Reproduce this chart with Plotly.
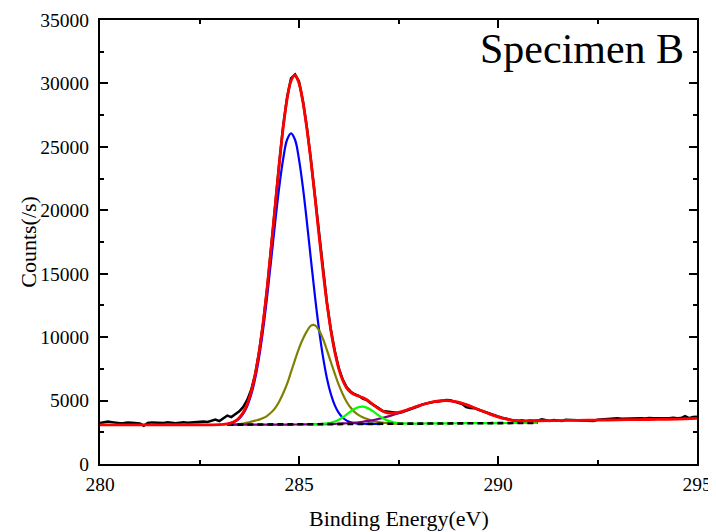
import numpy as np
import plotly.graph_objects as go

# ---------------- data ----------------
# measured spectrum, 280.0 .. 295.0 eV step 0.1
raw_counts = [
    3230, 3260, 3350, 3300, 3240, 3210, 3230, 3270, 3250, 3220,
    3200, 3020, 3230, 3280, 3260, 3200, 3230, 3290, 3250, 3220,
    3260, 3300, 3250, 3280, 3320, 3300, 3350, 3320, 3400, 3500,
    3380, 3600, 3820, 3700, 3950, 4150, 4500, 5050, 5850, 7100,
    8900, 11150, 13850, 16900, 20300, 23600, 26600, 28900, 30400, 30700,
    30150, 28600, 26500, 23950, 21100, 18100, 15300, 12750, 10600, 8900,
    7550, 6650, 6050, 5700, 5500, 5380, 5150, 5050, 4800, 4620,
    4420, 4180, 4150, 4100, 4050, 4020, 4100, 4200, 4330, 4400,
    4550, 4700, 4780, 4850, 4900, 4930, 5000, 5050, 5020, 4950,
    4820, 4720, 4480, 4420, 4400, 4300, 4180, 4050, 3950, 3850,
    3750, 3650, 3560, 3480, 3420, 3400, 3450, 3380, 3420, 3400,
    3420, 3520, 3430, 3400, 3460, 3420, 3400, 3480, 3450, 3420,
    3440, 3430, 3410, 3420, 3400, 3480, 3500, 3520, 3560, 3530,
    3600, 3560, 3580, 3570, 3600, 3590, 3610, 3580, 3620, 3600,
    3590, 3620, 3600, 3610, 3640, 3600, 3620, 3780, 3610, 3700,
    3720,
]
raw_energy = np.round(np.arange(280.0, 295.05, 0.1), 1)

# fit region energies
fit_energy = [
    283.2, 283.3, 283.4, 283.5, 283.6, 283.7, 283.8, 283.9,
    284.0, 284.1, 284.2, 284.3, 284.4, 284.5, 284.6, 284.7, 284.8, 284.9,
    285.0, 285.1, 285.2, 285.3, 285.4, 285.5, 285.6, 285.7, 285.8, 285.9,
    286.0, 286.1, 286.2, 286.3, 286.4, 286.5, 286.6, 286.7, 286.8, 286.9,
    287.0, 287.2, 287.4, 287.6, 287.8, 288.0, 288.2, 288.4, 288.6, 288.8,
    289.0, 289.2, 289.4, 289.6, 289.8, 290.0, 290.2, 290.4, 290.6, 290.8,
    291.0,
]
background = [
    3100, 3100, 3100, 3100, 3100, 3100, 3100, 3100,
    3100, 3100, 3100, 3100, 3102, 3104, 3106, 3108, 3110, 3112,
    3115, 3118, 3121, 3124, 3127, 3130, 3133, 3136, 3139, 3142,
    3145, 3148, 3150, 3152, 3154, 3156, 3158, 3160, 3162, 3164,
    3166, 3170, 3175, 3180, 3185, 3190, 3195, 3200, 3205, 3210,
    3214, 3218, 3222, 3225, 3228, 3230, 3232, 3234, 3236, 3238,
    3240,
]
# component intensities above background
peak_c1 = [  # blue, ~284.8 eV
    69, 140, 270, 498, 877, 1476, 2375, 3650,
    5370, 7540, 10120, 12980, 15910, 18640, 20900, 22450, 22950, 22450,
    20900, 18640, 15910, 12980, 10120, 7540, 5370, 3650, 2375, 1476,
    877, 498, 270, 140, 69, 33, 15, 6, 3, 1,
    0, 0, 0, 0, 0, 0, 0, 0, 0, 0,
    0, 0, 0, 0, 0, 0, 0, 0, 0, 0,
    0,
]
peak_c2 = [  # olive, ~285.4 eV
    0, 5, 20, 50, 95, 160, 240, 322,
    400, 520, 700, 960, 1300, 1800, 2450, 3200, 4150, 5100,
    6000, 6750, 7350, 7780, 7810, 7420, 6750, 5860, 4900, 3970,
    3085, 2350, 1740, 1280, 940, 700, 530, 400, 290, 200,
    130, 50, 10, 0, 0, 0, 0, 0, 0, 0,
    0, 0, 0, 0, 0, 0, 0, 0, 0, 0,
    0,
]
peak_c3 = [  # green, ~286.6 eV
    0, 0, 0, 0, 0, 0, 0, 0,
    0, 0, 0, 0, 0, 0, 0, 0, 0, 0,
    0, 0, 0, 0, 5, 12, 28, 60, 117, 210,
    350, 537, 760, 992, 1194, 1325, 1357, 1283, 1119, 900,
    668, 289, 91, 20, 3, 0, 0, 0, 0, 0,
    0, 0, 0, 0, 0, 0, 0, 0, 0, 0,
    0,
]
peak_c4 = [  # purple, ~288.7 eV
    0, 0, 0, 0, 0, 0, 0, 0,
    0, 0, 0, 0, 0, 0, 0, 0, 0, 0,
    1, 2, 2, 4, 5, 7, 10, 14, 20, 27,
    36, 48, 63, 83, 106, 135, 171, 213, 262, 320,
    386, 544, 734, 948, 1173, 1389, 1575, 1710, 1779, 1766,
    1655, 1460, 1214, 951, 702, 489, 320, 198, 115, 63,
    33,
]
# envelope outside the fitted region
env_left_energy = [280.0, 280.5, 281.0, 281.5, 282.0, 282.5, 283.0]
env_left_counts = [3085, 3088, 3090, 3092, 3094, 3096, 3098]
env_right_energy = [290.6, 290.8, 291.0, 291.5, 292.0, 292.5, 293.0, 293.5, 294.0, 294.5, 295.0]
env_right_counts = [3400, 3405, 3410, 3425, 3440, 3460, 3480, 3500, 3520, 3545, 3600]

comp_ranges = {"c1": (283.2, 287.0), "c2": (283.2, 287.6), "c3": (285.3, 291.0), "c4": (283.2, 291.0)}

x_ticks = [280, 285, 290, 295]
y_ticks = [0, 5000, 10000, 15000, 20000, 25000, 30000, 35000]

# ---------------- figure ----------------
E = np.array(fit_energy)
bg = np.array(background)
comps = {"c1": np.array(peak_c1), "c2": np.array(peak_c2), "c3": np.array(peak_c3), "c4": np.array(peak_c4)}
colors = {"c1": "#0000FF", "c2": "#808000", "c3": "#00FF00", "c4": "#800080"}

env_fit = bg + comps["c1"] + comps["c2"] + comps["c3"] + comps["c4"]
mask_env = E <= 290.4
env_x = list(env_left_energy) + list(E[mask_env]) + list(env_right_energy)
env_y = list(env_left_counts) + list(env_fit[mask_env]) + list(env_right_counts)

fig = go.Figure()
fig.add_trace(go.Scatter(x=raw_energy, y=raw_counts, mode="lines",
                         line=dict(color="black", width=2.5)))
for key in ["c1", "c2", "c4", "c3"]:
    lo, hi = comp_ranges[key]
    m = (E >= lo - 1e-9) & (E <= hi + 1e-9)
    fig.add_trace(go.Scatter(x=E[m], y=(bg + comps[key])[m], mode="lines",
                             line=dict(color=colors[key], width=2.2, shape="spline")))
fig.add_trace(go.Scatter(x=E, y=bg, mode="lines",
                         line=dict(color="black", width=2.6, dash="6px,4px")))
fig.add_trace(go.Scatter(x=env_x, y=env_y, mode="lines",
                         line=dict(color="#FF0000", width=2.8, shape="spline")))

axis_common = dict(
    showline=True, linecolor="black", linewidth=2, mirror="ticks",
    ticks="inside", ticklen=8, tickwidth=2, tickcolor="black",
    showgrid=False, zeroline=False, tickformat="d",
    tickfont=dict(family="Liberation Serif", size=19.5, color="black"),
)
fig.update_xaxes(range=[280, 295], tickvals=x_ticks, ticklabelstandoff=2,
                 minor=dict(ticks="inside", ticklen=4, tickwidth=2, tickcolor="black",
                            tick0=280, dtick=2.5),
                 **axis_common)
fig.update_yaxes(range=[0, 35000], tickvals=y_ticks, ticklabelstandoff=5,
                 minor=dict(ticks="inside", ticklen=4, tickwidth=2, tickcolor="black",
                            tick0=0, dtick=2500),
                 **axis_common)

# the page body has an 8px default margin; the figure size/margins account for it
fig.update_layout(
    width=708, height=524,
    margin=dict(l=92, r=19, t=12, b=68, autoexpand=False),
    plot_bgcolor="white", paper_bgcolor="white",
    showlegend=False,
    font=dict(family="Liberation Serif", size=19, color="black"),
    annotations=[
        dict(text="Specimen B", xref="paper", yref="paper", x=0.982, y=0.935,
             xanchor="right", yanchor="middle", showarrow=False,
             font=dict(family="Liberation Serif", size=42, color="black")),
        dict(text="Binding Energy(eV)", xref="paper", yref="paper", x=0.5, y=-0.122,
             xanchor="center", yanchor="middle", showarrow=False,
             font=dict(family="Liberation Serif", size=22, color="black")),
        dict(text="Counts(/s)", xref="paper", yref="paper", x=-0.121, y=0.5,
             xanchor="center", yanchor="middle", showarrow=False, textangle=-90,
             font=dict(family="Liberation Serif", size=22, color="black")),
    ],
)

fig.write_html("out.html")
